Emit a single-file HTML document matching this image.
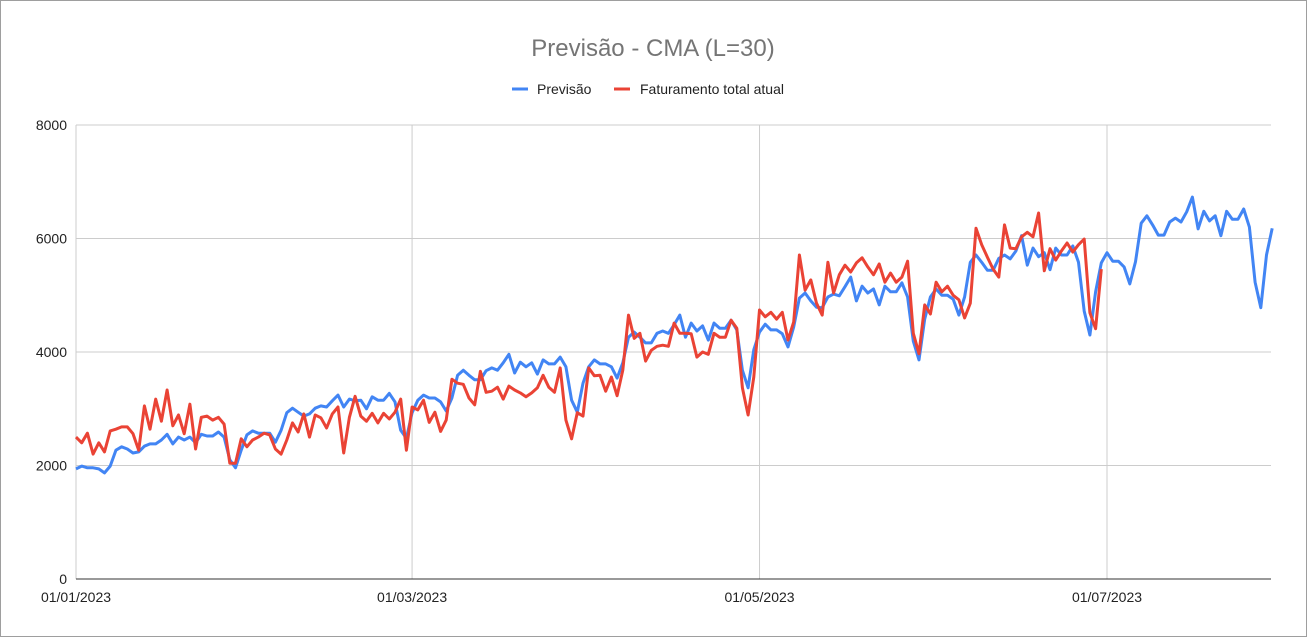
<!DOCTYPE html>
<html><head><meta charset="utf-8"><style>
html,body{margin:0;padding:0;background:#fff;}
body{width:1307px;height:637px;overflow:hidden;font-family:"Liberation Sans",Arial,sans-serif;}
.frame{position:absolute;left:0;top:0;width:1305px;height:635px;border:1px solid #9e9e9e;}
</style></head><body>
<div class="frame"></div>
<svg id="chart" width="1307" height="637" style="position:absolute;left:0;top:0">
<text x="653" y="56" text-anchor="middle" font-size="24" fill="#757575">Previsão - CMA (L=30)</text>
<g>
<g><line x1="512" y1="89" x2="528" y2="89" stroke="#4285f4" stroke-width="3"/><text x="537" y="94" font-size="14" fill="#222">Previsão</text></g>
<g><line x1="614" y1="89" x2="630" y2="89" stroke="#ea4335" stroke-width="3"/><text x="640" y="94" font-size="14" fill="#222">Faturamento total atual</text></g>
</g>
<g id="grid"></g>
<g id="axes"></g>
<g id="series"></g>
</svg>
<script>
const yTicks=[0,2000,4000,6000,8000];
const xTickDays=[0,59,120,181];
const xTickLabels=["01/01/2023","01/03/2023","01/05/2023","01/07/2023"];
const previsao=[1940,1990,1960,1960,1940,1870,1990,2270,2330,2290,2220,2240,2340,2380,2380,2450,2550,2380,2500,2450,2500,2400,2550,2520,2520,2590,2500,2100,1960,2270,2540,2610,2570,2570,2570,2410,2620,2930,3010,2940,2870,2910,3010,3050,3030,3140,3240,3030,3170,3140,3150,3000,3210,3150,
3150,3270,3120,2620,2480,2930,3150,3240,3190,3190,3120,2960,3190,3590,3680,3590,3510,3510,3670,3720,3680,3810,3960,3630,3820,3740,3810,3610,3860,3790,3790,3910,3740,3150,2940,3450,3740,3860,3790,3790,3740,3540,3810,4260,4350,4260,4160,4160,4330,4370,4330,4480,4650,
4260,4510,4370,4460,4210,4510,4420,4420,4560,4390,3680,3370,4040,4350,4490,4390,4390,4320,4090,4440,4950,5040,4900,4790,4780,4970,5020,4990,5150,5320,4900,5160,5040,5110,4830,5160,5060,5060,5220,4970,4190,3860,4580,4970,5110,5000,5000,4930,4650,4970,5580,5710,5580,
5440,5440,5650,5710,5640,5780,6050,5530,5830,5680,5750,5450,5830,5710,5710,5870,5580,4720,4300,5060,5570,5750,5600,5600,5500,5200,5590,6270,6400,6240,6060,6060,6290,6360,6290,6470,6730,6170,6480,6310,6400,6050,6480,6340,6340,6520,6200,5230,4780,5710,6180];
const faturamento=[2500,2400,2570,2200,2400,2240,2610,2640,2680,2680,2560,2270,3050,2640,3170,2780,3330,2700,2890,2560,3080,2290,2850,2870,2800,2850,2730,2040,2040,2470,2330,2450,2500,2570,2540,2290,2200,2450,2750,2590,2910,2500,2890,2840,2660,2910,3030,2220,2850,3220,2870,2780,2920,2750,
2920,2820,2940,3170,2270,3030,2980,3150,2760,2940,2600,2800,3520,3450,3430,3190,3070,3660,3290,3310,3380,3170,3400,3330,3280,3210,3280,3370,3590,3380,3290,3720,2800,2470,2930,2870,3720,3580,3590,3310,3560,3230,3680,4650,4240,4330,3840,4030,4100,4120,4100,4510,4330,
4330,4320,3910,4000,3960,4330,4260,4260,4560,4420,3370,2890,3560,4740,4620,4700,4580,4700,4210,4530,5710,5090,5270,4860,4650,5580,5040,5360,5530,5410,5570,5660,5500,5360,5550,5230,5390,5230,5320,5600,4330,3970,4830,4670,5230,5060,5160,5000,4920,4600,4860,6180,5890,
5670,5460,5320,6240,5830,5820,6030,6110,6030,6450,5430,5820,5620,5780,5920,5760,5890,5990,4690,4410,5460];

const X0=76,PXDAY=(1107-76)/181,XEND=1271,Y0=579,Y1=125,YMAX=8000;
const xs=d=>X0+PXDAY*d;
const ys=v=>Y0-(Y0-Y1)*v/YMAX;
const NS="http://www.w3.org/2000/svg";
const grid=document.getElementById('grid'),axes=document.getElementById('axes'),series=document.getElementById('series');
function mk(tag,attrs,parent){const e=document.createElementNS(NS,tag);for(const k in attrs)e.setAttribute(k,attrs[k]);parent.appendChild(e);return e;}
yTicks.forEach((t,i)=>{
  if(t>0){const l=mk('line',{x1:X0,x2:XEND,y1:ys(t),y2:ys(t),stroke:'#cccccc','stroke-width':1},grid);
  
  }
  const tx=mk('text',{x:67,y:ys(t)+5,'text-anchor':'end','font-size':14,fill:'#222'},axes);
  tx.textContent=t;
  
  
});
xTickDays.forEach((d,i)=>{
  if(d>0){const l=mk('line',{x1:xs(d),x2:xs(d),y1:Y1,y2:Y0,stroke:'#cccccc','stroke-width':1},grid);
  
  }
  const tx=mk('text',{x:xs(d),y:Y0+23,'text-anchor':'middle','font-size':14,fill:'#222'},axes);
  tx.textContent=xTickLabels[i];
  
  
});
const yl=mk('line',{x1:X0,x2:X0,y1:Y1,y2:Y0,stroke:'#cccccc','stroke-width':1},axes);


const xl=mk('line',{x1:X0,x2:XEND,y1:Y0,y2:Y0,stroke:'#333','stroke-width':1},axes);


function line(data,color,name){
  const p=mk('polyline',{points:data.map((v,i)=>xs(i).toFixed(1)+','+ys(v).toFixed(1)).join(' '),fill:'none',stroke:color,'stroke-width':3,'stroke-linejoin':'round'},series);
  
  
}
line(previsao,'#4285f4','previsao-line');
line(faturamento,'#ea4335','faturamento-line');
</script>
</body></html>
